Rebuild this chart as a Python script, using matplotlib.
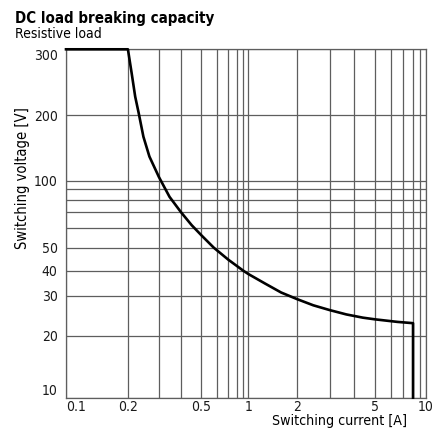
import numpy as np
import matplotlib
matplotlib.use("Agg")
import matplotlib.pyplot as plt
from matplotlib.ticker import NullLocator

# ---- data ----
current_A = [0.1, 0.2, 0.21, 0.22, 0.23, 0.245, 0.265, 0.3, 0.345, 0.4, 0.45,
             0.5, 0.58, 0.7, 0.9, 1.0, 1.27, 1.6, 2.0, 2.45, 3.0, 3.65, 4.4,
             5.0, 6.5, 8.0, 8.0]
voltage_V = [300, 300, 259, 224, 203, 159, 129, 104, 83, 70, 61.5,
             56, 50, 44.5, 40, 38.5, 34.5, 31.1, 29, 27.2, 25.9, 24.8, 24.0,
             23.6, 23.0, 22.7, 10]

x_grid = [0.1, 0.2, 0.3, 0.4, 0.5, 0.6, 0.7, 0.8, 0.9, 1, 2, 3, 4, 5, 6, 7, 8, 9, 10]
x_labels = {0.1: "0.1", 0.2: "0.2", 0.5: "0.5", 1: "1", 2: "2", 5: "5", 10: "10"}
y_grid = [10, 20, 30, 40, 50, 60, 70, 80, 90, 100, 200, 300]
y_labels = {10: "10", 20: "20", 30: "30", 40: "40", 50: "50", 100: "100",
            200: "200", 300: "300"}

title = "DC load breaking capacity"
subtitle = "Resistive load"
xlabel = "Switching current [A]"
ylabel = "Switching voltage [V]"

# ---- scale calibration: the printed grid is a slightly irregular log grid ----
x_cal_vals = [0.1, 0.2, 0.3, 0.4, 0.5, 0.6, 0.7, 0.8, 0.9, 1, 2, 3, 4, 5, 6, 7, 8, 9, 10]
x_cal_frac = [0.0, 0.172, 0.258, 0.319, 0.376, 0.4185, 0.451, 0.476, 0.4925, 0.5065,
              0.6408, 0.733, 0.800, 0.858, 0.903, 0.936, 0.964, 0.983, 1.0]
y_cal_vals = [10, 20, 30, 40, 50, 60, 70, 80, 90, 100, 200, 300]
y_cal_frac = [0.0, 0.178, 0.293, 0.3645, 0.4305, 0.488, 0.533, 0.5666, 0.598,
              0.623, 0.8114, 1.0]


def make_scale(vals, fracs):
    lv = np.log10(np.asarray(vals, float))
    fr = np.asarray(fracs, float)
    s_lo = (fr[1] - fr[0]) / (lv[1] - lv[0])
    s_hi = (fr[-1] - fr[-2]) / (lv[-1] - lv[-2])

    def fwd(v):
        v = np.clip(np.asarray(v, float), 1e-12, None)
        l = np.log10(v)
        out = np.interp(l, lv, fr)
        out = np.where(l < lv[0], fr[0] + (l - lv[0]) * s_lo, out)
        out = np.where(l > lv[-1], fr[-1] + (l - lv[-1]) * s_hi, out)
        return out

    def inv(p):
        p = np.asarray(p, float)
        l = np.interp(p, fr, lv)
        l = np.where(p < fr[0], lv[0] + (p - fr[0]) / s_lo, l)
        l = np.where(p > fr[-1], lv[-1] + (p - fr[-1]) / s_hi, l)
        return 10.0 ** l

    return fwd, inv


plt.rcParams["font.family"] = ["DejaVu Sans"]
plt.rcParams["font.stretch"] = "condensed"

W, H = 436, 434
fig = plt.figure(figsize=(W / 100, H / 100), dpi=100)
ax = fig.add_axes([66 / W, (H - 397.7) / H, 360 / W, 348.4 / H])

ax.set_xscale("function", functions=make_scale(x_cal_vals, x_cal_frac))
ax.set_yscale("function", functions=make_scale(y_cal_vals, y_cal_frac))
ax.set_xlim(0.1, 10)
ax.set_ylim(10, 300)

grid_color = "#5e5e5e"
ax.set_xticks(x_grid, labels=[x_labels.get(v, "") for v in x_grid])
ax.set_yticks(y_grid, labels=[y_labels.get(v, "") for v in y_grid])
ax.xaxis.set_minor_locator(NullLocator())
ax.yaxis.set_minor_locator(NullLocator())
ax.tick_params(axis="both", length=0, labelsize=10, colors="#1a1a1a")
ax.tick_params(axis="x", pad=2)
ax.tick_params(axis="y", pad=6)
ax.grid(True, which="major", color=grid_color, linewidth=0.9)
for s in ax.spines.values():
    s.set_color(grid_color)
    s.set_linewidth(0.9)

# end labels sit inside the frame like in the reference
xt = ax.xaxis.get_major_ticks()
xt[0].label1.set_horizontalalignment("left")
yt = ax.yaxis.get_major_ticks()
yt[0].label1.set_verticalalignment("bottom")
yt[-1].label1.set_verticalalignment("top")

ax.plot(current_A, voltage_V, color="black", linewidth=1.9, solid_joinstyle="round",
        clip_on=False, zorder=5)

fig.text(15 / W, 1 - 23.3 / H, title, fontsize=10.8, fontweight="bold",
         va="baseline", ha="left", color="black")
fig.text(15 / W, 1 - 38 / H, subtitle, fontsize=10,
         va="baseline", ha="left", color="black")
fig.text(23 / W, 1 - 178 / H, ylabel, fontsize=10.5, rotation=90,
         va="center", ha="center", color="black")
fig.text(407 / W, 1 - 421 / H, xlabel, fontsize=10.2,
         va="center", ha="right", color="black")

fig.savefig("out.png", dpi=100)
